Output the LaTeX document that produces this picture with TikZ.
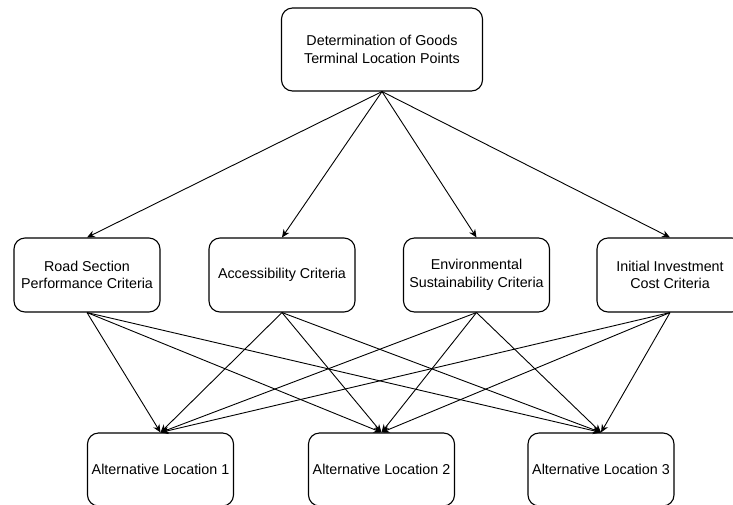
\documentclass[tikz,border=0pt]{standalone}
\usepackage{fontspec}
\setmainfont{Liberation Sans}
\usetikzlibrary{arrows.meta}

\begin{document}
\begin{tikzpicture}[>={Stealth[length=8pt,width=7pt]},x=1pt,y=-1pt,
    box/.style={draw,line width=1.1pt,rounded corners=11pt,align=center,
        minimum width=146pt,minimum height=74pt,inner sep=1pt,
        font=\fontsize{14.3pt}{17.5pt}\selectfont},
    link/.style={->,line width=0.9pt}]
    \useasboundingbox (0,0) rectangle (733,504);
    % goal
    \node[box,minimum width=201pt,minimum height=83pt] (goal) at (382,49.5)
        {Determination of Goods\\Terminal Location Points};
    % criteria
    \node[box] (road) at (87,275) {Road Section\\Performance Criteria};
    \node[box] (access) at (282,275) {Accessibility Criteria};
    \node[box] (env) at (476.5,275) {Environmental\\Sustainability Criteria};
    \node[box] (cost) at (670,275) {Initial Investment\\Cost Criteria};
    % alternatives
    \node[box,minimum height=73pt] (alt1) at (160.5,469.5) {Alternative Location 1};
    \node[box,minimum height=73pt] (alt2) at (381.5,469.5) {Alternative Location 2};
    \node[box,minimum height=73pt] (alt3) at (601,469.5) {Alternative Location 3};
    \foreach \c in {road,access,env,cost}
        \draw[link] (goal.south) -- (\c.north);
    \foreach \c in {road,access,env,cost}
        \foreach \a in {alt1,alt2,alt3}
            \draw[link] (\c.south) -- (\a.north);
\end{tikzpicture}
\end{document}
